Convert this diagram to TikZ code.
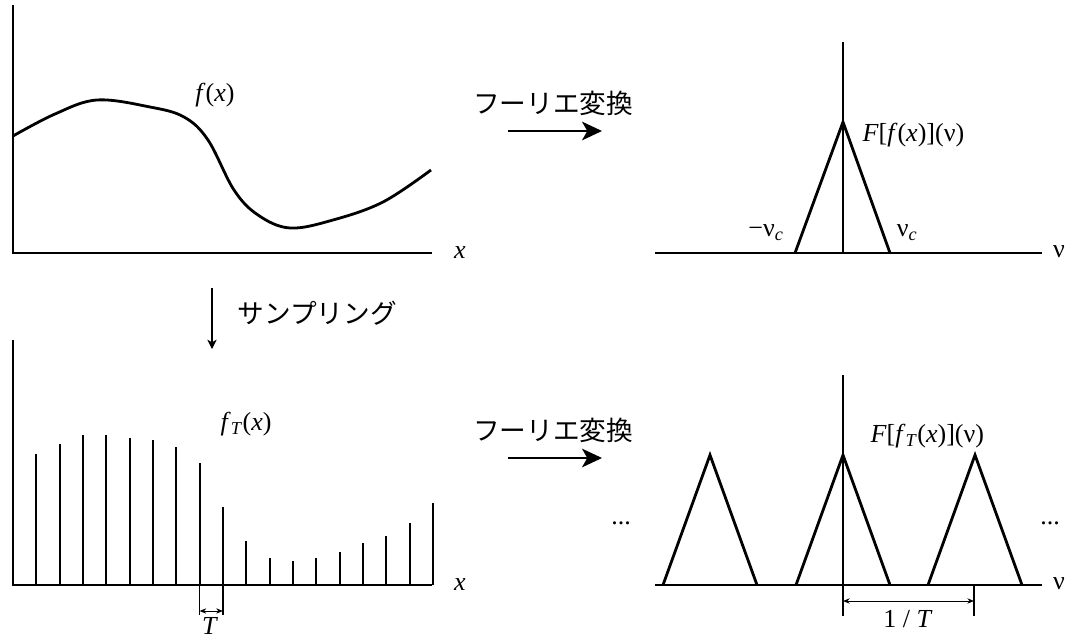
\documentclass[tikz,border=0pt]{standalone}
\usepackage{fontspec}
\setmainfont{Liberation Serif}
\newfontfamily\jpfont{Noto Sans CJK JP}
\usetikzlibrary{arrows.meta,positioning,calc}

\begin{document}
\begin{tikzpicture}[
  x=0.75pt,y=-0.75pt,
  axis/.style={line width=2.1pt},
  curve/.style={line width=2.1pt,line join=round},
  stem/.style={line width=1.5pt},
  trans/.style={-{Stealth[length=15pt,width=14pt,inset=4pt]},line width=1.5pt},
  sampl/.style={-{Stealth[length=7pt,width=7pt,inset=2pt]},line width=0.8pt},
  dim/.style={{Stealth[length=5pt,width=4pt]}-{Stealth[length=5pt,width=4pt]},line width=0.7pt},
  tick/.style={line width=0.9pt},
  lbl/.style={font=\fontsize{19.5}{23}\selectfont,inner sep=1pt},
  jp/.style={font=\jpfont\fontsize{20}{24}\selectfont,inner sep=1pt},
]
\useasboundingbox (0,0) rectangle (1081,639);

% top left: f(x)
\coordinate (yt1) at (13,5);
\coordinate (o1)  at (13,253);
\coordinate (xe1) at (432,253);
\draw[axis] (yt1) -- (o1) -- (xe1);
\draw[curve] plot[smooth,tension=0.6] coordinates {(13,136) (55,114) (97,100) (150,107) (184,117) (208,140) (234,190) (258,215) (290,228) (333,220) (383,202) (431,170)};
\node[lbl] (fx) at (215,95) {\textit{f}(\textit{x})};
\node[lbl] (x1) at (460,253) {\textit{x}};

% top arrow: fourier transform
\coordinate (ta1) at (508,131);
\coordinate (tb1) at (602,131);
\draw[trans] (ta1) -- (tb1);
\node[jp] (ft1) at (553,103) {フーリエ変換};

% top right: spectrum
\coordinate (ua) at (655,253);
\coordinate (ub) at (1042,253);
\coordinate (uo) at (843,253);
\coordinate (ut) at (843,42);
\draw[axis] (ua) -- (ub);
\draw[axis] (ut) -- (uo);
\draw[axis,line join=miter] (795,253) -- (843,122) -- (890,253);
\node[lbl,anchor=west] (Ff) at (861,135) {\textit{F}[\textit{f}(\textit{x})](ν)};
\node[lbl] (nl) at (766,233) {−ν\textsubscript{\textit{c}}};
\node[lbl] (nr) at (907,233) {ν\textsubscript{\textit{c}}};
\node[lbl] (nu1) at (1059,252) {ν};

% sampling arrow
\coordinate (sa) at (212,288);
\coordinate (sb) at (212,349);
\draw[sampl] (sa) -- (sb);
\node[jp,anchor=west] (smp) at (236,313) {サンプリング};

% bottom left: f_T(x)
\coordinate (yt2) at (13,340);
\coordinate (o2)  at (13,585);
\coordinate (xe2) at (432,585);
\draw[axis] (yt2) -- (o2) -- (xe2);
\foreach \k/\top in {1/454,2/444,3/435,4/435,5/438,6/440,7/447,8/463,9/507,10/541,11/558,12/561,13/558,14/552,15/543,16/536,17/523,18/503}
  \draw[stem] (13+23.33*\k,585) -- (13+23.33*\k,\top);
\node[lbl] (fT) at (246,424) {\textit{f}\textsubscript{\textit{T}}(\textit{x})};
\node[lbl] (x2) at (460,585) {\textit{x}};

% T interval
\coordinate (ta) at (199.6,585);
\coordinate (tb) at (222.9,585);
\draw[tick] (ta) -- ++(0,30);
\draw[tick] (tb) -- ++(0,30);
\draw[dim] ($(ta)+(0,26)$) -- ($(tb)+(0,26)$);
\node[lbl,anchor=base,inner sep=0pt,text depth=0pt] (Tl) at (210,634) {\textit{T}};

% bottom arrow
\coordinate (ta2) at (508,458);
\coordinate (tb2) at (602,458);
\draw[trans] (ta2) -- (tb2);
\node[jp] (ft2) at (553,430) {フーリエ変換};

% bottom right: periodic spectrum
\coordinate (va) at (655,585);
\coordinate (vb) at (1042,585);
\coordinate (vo) at (843,585);
\coordinate (vt) at (843,375);
\draw[axis] (va) -- (vb);
\draw[axis] (vt) -- (vo);
\foreach \c in {710,843,975}
  \draw[axis,line join=miter] (\c-47,585) -- (\c,455) -- (\c+47,585);
\node[lbl,anchor=west] (FfT) at (869,436) {\textit{F}[\textit{f}\textsubscript{\textit{T}}(\textit{x})](ν)};
\node[lbl] (dl) at (621,523) {...};
\node[lbl] (dr) at (1050,523) {...};
\node[lbl] (nu2) at (1059,584) {ν};

% 1/T interval
\coordinate (pa) at (843,585);
\coordinate (pb) at (974,585);
\draw[tick] (pa) -- ++(0,31);
\draw[tick] (pb) -- ++(0,31);
\draw[dim] ($(pa)+(0,16)$) -- ($(pb)+(0,16)$);
\node[lbl] (iT) at (908,619) {1 / \textit{T}};

\end{tikzpicture}
\end{document}
